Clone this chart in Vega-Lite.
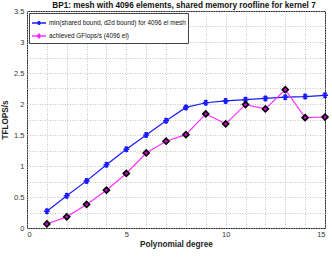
{
  "$schema": "https://vega.github.io/schema/vega-lite/v6.json",
  "width": 298,
  "height": 217,
  "autosize": {"type": "none"},
  "padding": {"left": 27, "top": 11, "right": 7, "bottom": 29},
  "background": "white",
  "config": {
    "font": "Liberation Sans",
    "view": {"stroke": "#262626", "strokeWidth": 1},
    "axis": {
      "labelFont": "Liberation Sans",
      "titleFont": "Liberation Sans",
      "labelFontSize": 7.5,
      "labelColor": "#333333",
      "titleFontSize": 8.2,
      "titleColor": "#222222",
      "titleFontWeight": "bold",
      "domain": false,
      "ticks": false,
      "gridColor": "#b5b5b5",
      "gridDash": [1, 1.5],
      "gridWidth": 0.8
    }
  },
  "title": {
    "text": "BP1: mesh with 4096 elements, shared memory roofline for kernel 7",
    "font": "Liberation Sans",
    "fontSize": 8.2,
    "fontWeight": "bold",
    "color": "#111111",
    "offset": -3,
    "dx": 8,
    "anchor": "middle"
  },
  "resolve": {"legend": {"color": "independent", "shape": "independent", "fill": "independent", "stroke": "independent"}},
  "data": {
    "values": [
      {"deg": 1, "v": 0.27, "s": "min(shared bound, d2d bound) for 4096 el mesh"},
      {"deg": 2, "v": 0.52, "s": "min(shared bound, d2d bound) for 4096 el mesh"},
      {"deg": 3, "v": 0.76, "s": "min(shared bound, d2d bound) for 4096 el mesh"},
      {"deg": 4, "v": 1.02, "s": "min(shared bound, d2d bound) for 4096 el mesh"},
      {"deg": 5, "v": 1.27, "s": "min(shared bound, d2d bound) for 4096 el mesh"},
      {"deg": 6, "v": 1.50, "s": "min(shared bound, d2d bound) for 4096 el mesh"},
      {"deg": 7, "v": 1.73, "s": "min(shared bound, d2d bound) for 4096 el mesh"},
      {"deg": 8, "v": 1.945, "s": "min(shared bound, d2d bound) for 4096 el mesh"},
      {"deg": 9, "v": 2.02, "s": "min(shared bound, d2d bound) for 4096 el mesh"},
      {"deg": 10, "v": 2.05, "s": "min(shared bound, d2d bound) for 4096 el mesh"},
      {"deg": 11, "v": 2.07, "s": "min(shared bound, d2d bound) for 4096 el mesh"},
      {"deg": 12, "v": 2.09, "s": "min(shared bound, d2d bound) for 4096 el mesh"},
      {"deg": 13, "v": 2.11, "s": "min(shared bound, d2d bound) for 4096 el mesh"},
      {"deg": 14, "v": 2.12, "s": "min(shared bound, d2d bound) for 4096 el mesh"},
      {"deg": 15, "v": 2.14, "s": "min(shared bound, d2d bound) for 4096 el mesh"},
      {"deg": 1, "v": 0.065, "s": "achieved GFlops/s (4096 el)"},
      {"deg": 2, "v": 0.18, "s": "achieved GFlops/s (4096 el)"},
      {"deg": 3, "v": 0.38, "s": "achieved GFlops/s (4096 el)"},
      {"deg": 4, "v": 0.61, "s": "achieved GFlops/s (4096 el)"},
      {"deg": 5, "v": 0.88, "s": "achieved GFlops/s (4096 el)"},
      {"deg": 6, "v": 1.21, "s": "achieved GFlops/s (4096 el)"},
      {"deg": 7, "v": 1.40, "s": "achieved GFlops/s (4096 el)"},
      {"deg": 8, "v": 1.505, "s": "achieved GFlops/s (4096 el)"},
      {"deg": 9, "v": 1.84, "s": "achieved GFlops/s (4096 el)"},
      {"deg": 10, "v": 1.68, "s": "achieved GFlops/s (4096 el)"},
      {"deg": 11, "v": 1.99, "s": "achieved GFlops/s (4096 el)"},
      {"deg": 12, "v": 1.92, "s": "achieved GFlops/s (4096 el)"},
      {"deg": 13, "v": 2.23, "s": "achieved GFlops/s (4096 el)"},
      {"deg": 14, "v": 1.78, "s": "achieved GFlops/s (4096 el)"},
      {"deg": 15, "v": 1.79, "s": "achieved GFlops/s (4096 el)"}
    ]
  },
  "encoding": {
    "x": {
      "field": "deg", "type": "quantitative",
      "scale": {"domain": [0, 15], "nice": false, "zero": false},
      "axis": {
        "title": "Polynomial degree",
        "values": [0,1,2,3,4,5,6,7,8,9,10,11,12,13,14,15],
        "labelExpr": "datum.value % 5 === 0 ? datum.label : ''",
        "labelPadding": 2,
        "titlePadding": 3
      }
    },
    "y": {
      "field": "v", "type": "quantitative",
      "scale": {"domain": [0, 3.5], "nice": false},
      "axis": {
        "title": "TFLOPS/s",
        "format": "~g",
        "values": [0,0.25,0.5,0.75,1,1.25,1.5,1.75,2,2.25,2.5,2.75,3,3.25,3.5],
        "labelExpr": "datum.value % 0.5 === 0 ? datum.label : ''",
        "labelPadding": 3,
        "titlePadding": 4
      }
    }
  },
  "layer": [
    {
      "mark": {"type": "line", "strokeWidth": 1.2},
      "encoding": {
        "color": {
          "field": "s", "type": "nominal",
          "scale": {
            "domain": ["min(shared bound, d2d bound) for 4096 el mesh", "achieved GFlops/s (4096 el)"],
            "range": ["#1a1aff", "#ff33ff"]
          },
          "legend": {
            "title": null,
            "orient": "top-left",
            "offset": 2,
            "padding": 2,
            "strokeColor": "#444444",
            "fillColor": "white",
            "labelFontSize": 6.4,
            "labelColor": "#111111",
            "labelLimit": 300,
            "rowPadding": -11,
            "symbolSize": 196,
            "labelOffset": 2,
            "encode": {
              "symbols": {
                "update": {
                  "shape": {"signal": "datum.value === 'achieved GFlops/s (4096 el)' ? 'M-1,0H-0.25M0.25,0H1M0,-0.28L0.25,0L0,0.28L-0.25,0Z' : 'M-1,0H1M-0.28,0H0.28M-0.14,-0.24L0.14,0.24M-0.14,0.24L0.14,-0.24M0,-0.28V0.28'"},
                  "stroke": {"signal": "datum.value === 'achieved GFlops/s (4096 el)' ? '#ff33ff' : '#1a1aff'"},
                  "fill": {"signal": "datum.value === 'achieved GFlops/s (4096 el)' ? '#cc00cc' : 'transparent'"},
                  "strokeWidth": {"value": 1.4},
                  "fillOpacity": {"value": 1},
                  "strokeOpacity": {"value": 1}
                }
              }
            }
          }
        }
      }
    },
    {
      "mark": {"type": "point", "filled": false, "strokeWidth": 1.6, "size": 36, "opacity": 1},
      "encoding": {
        "shape": {
          "field": "s", "type": "nominal",
          "scale": {
            "domain": ["min(shared bound, d2d bound) for 4096 el mesh", "achieved GFlops/s (4096 el)"],
            "range": ["M-1,0H1M-0.5,-0.866L0.5,0.866M-0.5,0.866L0.5,-0.866M0,-1V1", "diamond"]
          },
          "legend": null
        },
        "fill": {
          "field": "s", "type": "nominal",
          "scale": {
            "domain": ["min(shared bound, d2d bound) for 4096 el mesh", "achieved GFlops/s (4096 el)"],
            "range": ["transparent", "#cc00cc"]
          },
          "legend": null
        },
        "stroke": {
          "field": "s", "type": "nominal",
          "scale": {
            "domain": ["min(shared bound, d2d bound) for 4096 el mesh", "achieved GFlops/s (4096 el)"],
            "range": ["#1a1aff", "#000000"]
          },
          "legend": null
        }
      }
    }
  ]
}
